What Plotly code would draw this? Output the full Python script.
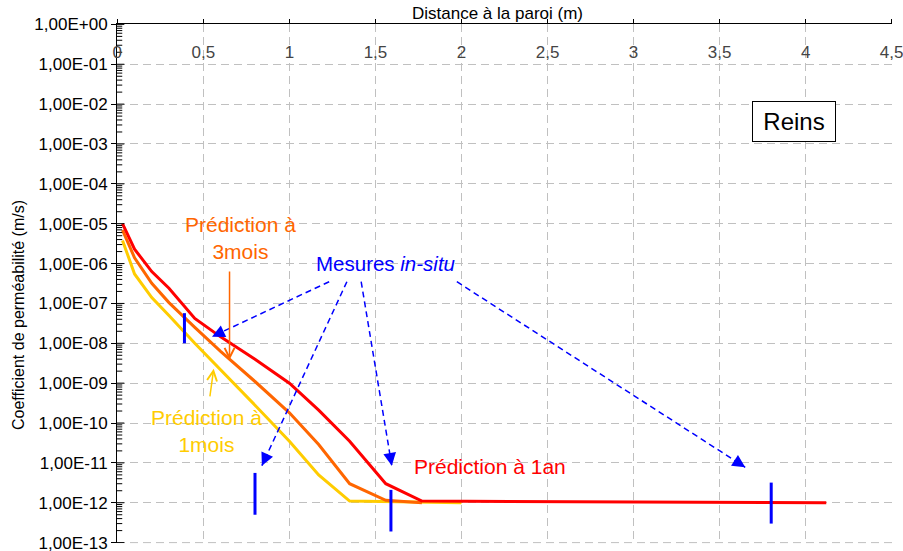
import plotly.graph_objects as go

# Distance to the wall (m) and predicted permeability (m/s) for each horizon
x_1an = [0.03, 0.10, 0.20, 0.30, 0.45, 0.60, 0.80, 1.00, 1.17, 1.35, 1.56, 1.77, 4.12]
k_1an = [1.0e-5, 2.3e-6, 6.3e-7, 2.4e-7, 4.2e-8, 1.45e-8, 4.0e-9, 1.0e-9, 2.1e-10, 3.5e-11, 3.0e-12, 1.1e-12, 1.0e-12]

x_3mois = [0.03, 0.10, 0.20, 0.30, 0.45, 0.60, 0.80, 1.00, 1.17, 1.35, 1.56, 1.77]
k_3mois = [6.9e-6, 1.4e-6, 3.2e-7, 1.05e-7, 2.5e-8, 6.3e-9, 1.1e-9, 1.8e-10, 2.9e-11, 3.0e-12, 1.15e-12, 1.0e-12]

x_1mois = [0.03, 0.10, 0.20, 0.30, 0.45, 0.60, 0.80, 1.00, 1.17, 1.35, 2.00]
k_1mois = [3.8e-6, 5.5e-7, 1.4e-7, 5.0e-8, 1.0e-8, 2.2e-9, 2.8e-10, 3.5e-11, 5.0e-12, 1.1e-12, 1.0e-12]

# In-situ measurements: distance and measured range
meas_x = [0.39, 0.80, 1.59, 3.80]
meas_kmin = [1.0e-8, 5.0e-13, 1.9e-13, 3.0e-13]
meas_kmax = [5.7e-8, 5.6e-12, 2.1e-12, 3.2e-12]

# Axis ticks
x_ticks = [0, 0.5, 1, 1.5, 2, 2.5, 3, 3.5, 4, 4.5]
y_exponents = list(range(0, -14, -1))
y_tickvals = [10.0 ** e for e in y_exponents]
y_ticktext = [f"1,00E{e:+03d}" for e in y_exponents]
y_minor = [m * 10.0 ** e for e in range(-13, 0) for m in range(2, 10)]

RED = "#FF0000"
ORANGE = "#FF6600"
YELLOW = "#FFCC00"
BLUE = "#0000FF"
GRID = "#C0C0C0"
FONT = "Liberation Sans, Arial, sans-serif"

W, H = 903, 551
M_L, M_R, M_T, M_B = 117, 11, 24, 8
EPS_X, EPS_Y = 0.002, 0.01
X_RANGE = (0 - EPS_X, 4.5 + EPS_X)
Y_RANGE = (-13 - EPS_Y, 0 + EPS_Y)
px_per_x = (W - M_L - M_R) / (X_RANGE[1] - X_RANGE[0])
px_per_dec = (H - M_T - M_B) / (Y_RANGE[1] - Y_RANGE[0])

fig = go.Figure()

# Bottom grid line (range edge)
fig.add_shape(type="line", xref="paper", yref="paper", x0=0, x1=1,
              y0=EPS_Y / (Y_RANGE[1] - Y_RANGE[0]), y1=EPS_Y / (Y_RANGE[1] - Y_RANGE[0]),
              line=dict(color=GRID, width=1, dash="8px,5px"), layer="below")

for xs, ks, col in [(x_1mois, k_1mois, YELLOW), (x_3mois, k_3mois, ORANGE), (x_1an, k_1an, RED)]:
    fig.add_trace(go.Scatter(x=xs, y=ks, mode="lines",
                             line=dict(color=col, width=3), hoverinfo="skip"))

mx, my = [], []
for x, lo, hi in zip(meas_x, meas_kmin, meas_kmax):
    mx += [x, x, None]
    my += [lo, hi, None]
fig.add_trace(go.Scatter(x=mx, y=my, mode="lines",
                         line=dict(color=BLUE, width=3), hoverinfo="skip"))

# Inner tick marks on the value axis (clipped to the plot area: only the inner half shows)
for vals, size in [(y_minor, 7), (y_tickvals, 10)]:
    fig.add_trace(go.Scatter(x=[0] * len(vals), y=vals, mode="markers", cliponaxis=True,
                             marker=dict(symbol="line-ew", size=size,
                                         line=dict(color="black", width=1)),
                             hoverinfo="skip"))

# Dashed pointers from the "Mesures in-situ" label (x, log10 K)
pointers = [
    ((1.231, -6.455), (0.550, -7.833)),
    ((1.334, -6.455), (0.840, -11.07)),
    ((1.417, -6.455), (1.595, -11.07)),
    ((1.973, -6.455), (3.649, -11.11)),
]
annotations = []
for (tx, ty), (hx, hy) in pointers:
    fig.add_trace(go.Scatter(x=[tx, hx], y=[10 ** ty, 10 ** hy], mode="lines",
                             line=dict(color=BLUE, width=1.5, dash="6px,4px"),
                             hoverinfo="skip"))
    dx = (tx - hx) * px_per_x
    dy = -(ty - hy) * px_per_dec
    n = (dx * dx + dy * dy) ** 0.5
    annotations.append(dict(x=hx, y=hy, text="", showarrow=True,
                            ax=dx / n * 9, ay=dy / n * 9, arrowhead=2, arrowsize=1.7,
                            arrowwidth=1.5, arrowcolor=BLUE))

annotations += [
    dict(x=0.652, y=-8.417, ax=0, ay=-90, text="", showarrow=True, arrowhead=5,
         arrowsize=1.3, arrowwidth=1.5, arrowcolor=ORANGE),
    dict(x=0.560, y=-8.64, ax=-4, ay=29, text="", showarrow=True, arrowhead=5,
         arrowsize=1.3, arrowwidth=1.5, arrowcolor=YELLOW),
    dict(x=0.713, y=-5.348, text="Prédiction à<br>3mois", showarrow=False,
         font=dict(color=ORANGE, size=21, family=FONT)),
    dict(x=0.521, y=-10.19, text="Prédiction à<br>1mois", showarrow=False,
         font=dict(color=YELLOW, size=21, family=FONT)),
    dict(x=2.164, y=-11.09, text="Prédiction à 1an", showarrow=False,
         font=dict(color=RED, size=21, family=FONT)),
    dict(x=1.557, y=-5.995, text="Mesures <i>in-situ</i>", showarrow=False,
         font=dict(color=BLUE, size=20.5, family=FONT)),
    dict(x=3.935, y=-2.437, text="Reins", showarrow=False, width=78, height=35,
         bordercolor="black", borderwidth=1, borderpad=2, bgcolor="white",
         font=dict(color="black", size=24, family=FONT)),
    dict(x=(497 - M_L) / (W - M_L - M_R), y=1 + (M_T - 13) / (H - M_T - M_B),
         xref="paper", yref="paper", xanchor="center", yanchor="middle",
         text="Distance à la paroi (m)", showarrow=False,
         font=dict(color="black", size=17, family=FONT)),
    dict(x=(18 - M_L) / (W - M_L - M_R), y=1 - (315 - M_T) / (H - M_T - M_B),
         xref="paper", yref="paper", xanchor="center", yanchor="middle",
         text="Coefficient de perméabilité (m/s)", textangle=-90, showarrow=False,
         font=dict(color="black", size=16, family=FONT)),
]
for a in annotations:
    a.setdefault("xref", "x")
    a.setdefault("yref", "y")

fig.update_layout(
    width=W, height=H,
    margin=dict(l=M_L, r=M_R, t=M_T, b=M_B, pad=0),
    paper_bgcolor="white", plot_bgcolor="white",
    separators=", ",
    showlegend=False,
    font=dict(family=FONT, size=17, color="black"),
    annotations=annotations,
    xaxis=dict(
        side="top", range=list(X_RANGE), tickmode="array", tickvals=x_ticks,
        ticks="outside", ticklen=4, tickcolor="black",
        ticklabelposition="inside", ticklabeloverflow="allow", ticklabelstandoff=23,
        showline=True, linecolor="black", linewidth=1,
        showgrid=True, gridcolor=GRID, gridwidth=1, griddash="8px,5px",
        zeroline=False, automargin=False, tickfont=dict(size=17, family=FONT),
    ),
    yaxis=dict(
        type="log", range=list(Y_RANGE), tickmode="array", tickvals=y_tickvals,
        ticktext=y_ticktext, ticks="outside", ticklen=5, tickcolor="black",
        ticklabeloverflow="allow",
        showline=True, linecolor="black", linewidth=1,
        showgrid=True, gridcolor=GRID, gridwidth=1, griddash="8px,5px",
        zeroline=False, automargin=False, tickfont=dict(size=17, family=FONT),
    ),
)

fig.write_html("out.html")
